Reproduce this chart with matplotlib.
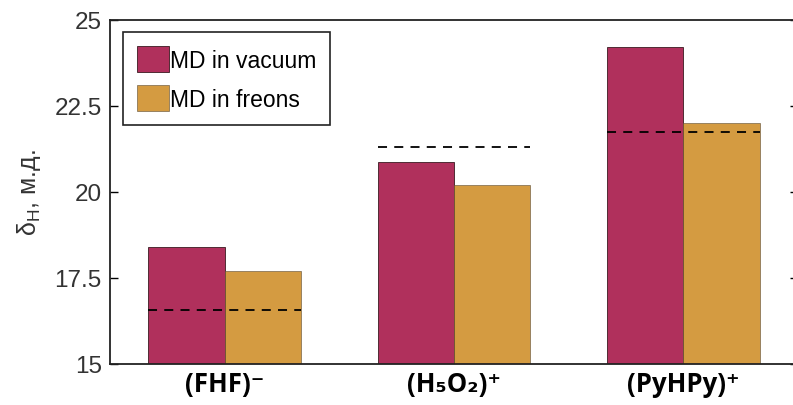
import matplotlib
matplotlib.use("Agg")
import matplotlib.pyplot as plt
import numpy as np

groups = ["(FHF)\u207b", "(H\u2085O\u2082)\u207a", "(PyHPy)\u207a"]
vacuum = [18.4, 20.87, 24.22]
freons = [17.7, 20.2, 22.0]
reference = [16.57, 21.31, 21.74]
yticks = [15, 17.5, 20, 22.5, 25]
ytick_labels = ["15", "17.5", "20", "22.5", "25"]

c_vac = "#b0305c"
c_fre = "#d49b41"

fig = plt.figure(figsize=(7.93, 4.06), dpi=100)
# axes run a bit past the right edge, like the cropped original
ax = fig.add_axes([110 / 793, 41 / 406, 688 / 793, 344 / 406])

x = np.arange(1, len(groups) + 1)
w = 1 / 3
ax.bar(x - w / 2, vacuum, w, color=c_vac, edgecolor="#3a1a20",
       linewidth=0.6, label="MD in vacuum")
ax.bar(x + w / 2, freons, w, color=c_fre, edgecolor="#5a4a30",
       linewidth=0.4, label="MD in freons")
for xi, r in zip(x, reference):
    ax.plot([xi - w, xi + w], [r, r], color="black", linestyle=(0, (5, 4)),
            linewidth=1.3)

ax.set_xlim(0.5, 3.5)
ax.set_ylim(15, 25)
ax.set_yticks(yticks)
ax.set_yticklabels(ytick_labels, fontsize=17.5, color="#333333",
                   family="Liberation Sans")
ax.set_xticks(x)
ax.set_xticklabels(groups, fontsize=18.5, fontweight="bold",
                   family=["Open Sans", "DejaVu Sans"])
ax.tick_params(axis="x", length=0, pad=4)
ax.tick_params(axis="y", direction="in", length=6, right=True, width=1,
               pad=6)
for s in ax.spines.values():
    s.set_linewidth(1.3)
    s.set_color("#222222")

ax.set_ylabel("\u03b4$_\\mathregular{H}$, м.д.", fontsize=18,
              family="Liberation Sans", labelpad=8, color="#333333")

leg = ax.legend(loc="upper left", bbox_to_anchor=(0.019, 0.965),
                fancybox=False, framealpha=1, edgecolor="#222222",
                handlelength=1.4, handleheight=1.4, handletextpad=0.05,
                borderpad=0.6, labelspacing=0.55, borderaxespad=0,
                prop={"family": "Liberation Sans", "size": 16.5})
leg.get_frame().set_linewidth(1.2)

fig.savefig("out.png", dpi=100)
